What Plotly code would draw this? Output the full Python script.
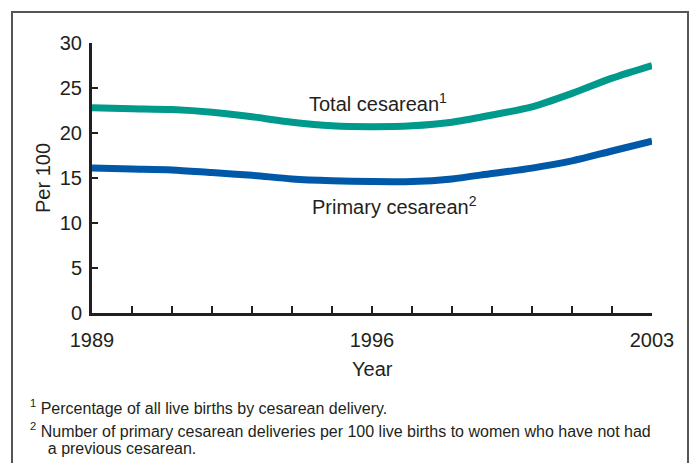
import plotly.graph_objects as go

years = list(range(1989, 2004))
total_cesarean = [22.8, 22.7, 22.6, 22.3, 21.8, 21.2, 20.8, 20.7, 20.8, 21.2, 22.0, 22.9, 24.4, 26.1, 27.5]
primary_cesarean = [16.1, 16.0, 15.9, 15.6, 15.3, 14.9, 14.7, 14.6, 14.6, 14.9, 15.5, 16.1, 16.9, 18.0, 19.1]
x_tick_labels = {1989: "1989", 1996: "1996", 2003: "2003"}
y_ticks = [0, 5, 10, 15, 20, 25, 30]

W, H = 694, 463
L, R, T, B = 92, 652, 43, 313  # plot area in pixels


def px(x):
    return (x - L) / (R - L)


def py(y):
    return (B - y) / (B - T)


FONT = "Liberation Sans, Arial, Helvetica, sans-serif"
INK = "#231f20"

fig = go.Figure()
fig.add_trace(go.Scatter(x=years, y=total_cesarean, mode="lines",
                         line=dict(color="#009a8c", width=7, shape="spline", smoothing=0.8),
                         name="Total cesarean", hoverinfo="x+y"))
fig.add_trace(go.Scatter(x=years, y=primary_cesarean, mode="lines",
                         line=dict(color="#0058a8", width=7, shape="spline", smoothing=0.8),
                         name="Primary cesarean", hoverinfo="x+y"))

fig.update_layout(
    width=W, height=H,
    margin=dict(l=L, r=W - R, t=T, b=H - B, pad=0),
    paper_bgcolor="white", plot_bgcolor="white",
    showlegend=False,
    font=dict(family=FONT, color=INK, size=20),
    xaxis=dict(range=[1989, 2003], tickvals=years,
               ticktext=[x_tick_labels.get(y, "") for y in years],
               ticks="inside", ticklen=7, tickwidth=2, tickcolor=INK,
               showline=True, linecolor=INK, linewidth=3,
               showgrid=False, zeroline=False,
               tickfont=dict(size=20, family=FONT, color=INK),
               ticklabelstandoff=7),
    yaxis=dict(range=[0, 30], tickvals=y_ticks,
               ticks="inside", ticklen=6, tickwidth=2, tickcolor=INK,
               showline=True, linecolor=INK, linewidth=3,
               showgrid=False, zeroline=False,
               tickfont=dict(size=20, family=FONT, color=INK),
               ticklabelstandoff=3),
)

ann = [
    dict(text="Total cesarean<sup>1</sup>", x=px(378), y=py(102)),
    dict(text="Primary cesarean<sup>2</sup>", x=px(394), y=py(205)),
    dict(text="Year", x=px(372), y=py(369)),
]
for a in ann:
    fig.add_annotation(xref="paper", yref="paper", xanchor="center", yanchor="middle",
                       showarrow=False, font=dict(size=20, family=FONT, color=INK), **a)

fig.add_annotation(xref="paper", yref="paper", x=px(43), y=py(178), text="Per 100",
                   textangle=-90, showarrow=False, xanchor="center", yanchor="middle",
                   font=dict(size=20, family=FONT, color=INK))

notes = [
    ("<sup>1</sup> Percentage of all live births by cesarean delivery.", 407),
    ("<sup>2</sup> Number of primary cesarean deliveries per 100 live births to women who have not had", 430),
    ("    a previous cesarean.", 448),
]
for text, yy in notes:
    fig.add_annotation(xref="paper", yref="paper", x=px(28), y=py(yy), text=text,
                       showarrow=False, xanchor="left", yanchor="middle",
                       font=dict(size=16, family=FONT, color=INK))

fig.add_shape(type="rect", xref="paper", yref="paper",
              x0=px(12), x1=px(688), y0=py(475), y1=py(12),
              line=dict(color="#555555", width=2), layer="below")

fig.write_html("out.html", config={"displayModeBar": False},
               post_script="document.body.style.margin='0';document.body.style.overflow='hidden';")
